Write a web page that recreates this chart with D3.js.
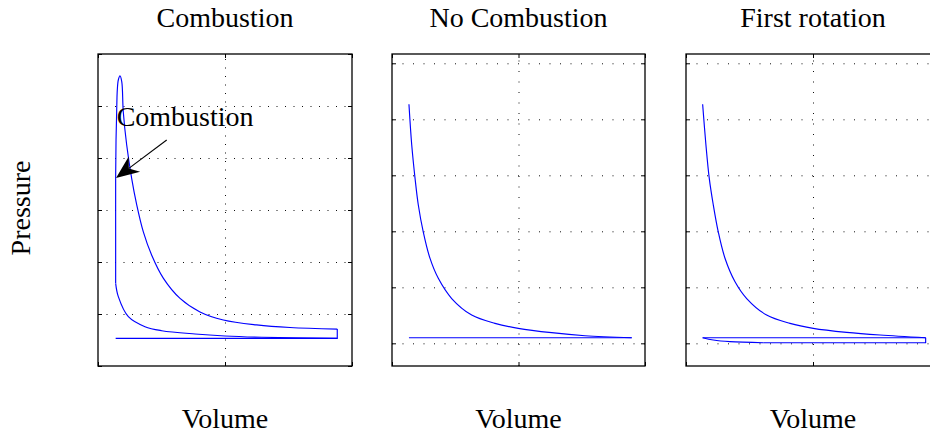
<!DOCTYPE html>
<html>
<head>
<meta charset="utf-8">
<script src="https://cdn.jsdelivr.net/npm/d3@7"></script>
<style>
  html, body { margin: 0; padding: 0; background: #fff; }
  svg { display: block; }
  text { font-family: "Liberation Serif", "Times New Roman", serif; fill: #000; }
</style>
</head>
<body>
<svg id="chart" width="930" height="433"></svg>
<script>
// ---- data ---------------------------------------------------------------
const panelTitles = ["Combustion", "No Combustion", "First rotation"];
const xLabel = "Volume";
const yLabel = "Pressure";
const annotationText = "Combustion";

const xTicks = [0, 1, 2];
const yTicksFired = [0, 1, 2, 3, 4, 5, 6];
const yTicksMotored = [0, 1, 2, 3, 4, 5];

// Fired cycle: compression stroke (right to left)
const firedCompressionV = [1.884, 1.289, 1.0, 0.764, 0.502, 0.370, 0.239, 0.160, 0.139];
const firedCompressionP = [0.53, 0.552, 0.577, 0.615, 0.679, 0.756, 0.948, 1.333, 1.59];
// Fired cycle: combustion rise then expansion stroke
const firedExpansionV = [0.139, 0.139, 0.139, 0.142, 0.147, 0.152, 0.160, 0.173, 0.187, 0.199, 0.226,
  0.265, 0.305, 0.357, 0.423, 0.514, 0.646, 0.803, 0.987, 1.249, 1.512, 1.884];
const firedExpansionP = [1.59, 2.62, 3.62, 4.35, 4.89, 5.31, 5.50, 5.58, 5.47, 4.89, 4.25,
  3.61, 3.10, 2.58, 2.13, 1.69, 1.30, 1.04, 0.885, 0.79, 0.74, 0.71];
// Fired cycle: exhaust / intake line
const firedLowV = [1.884, 1.884, 0.139];
const firedLowP = [0.71, 0.53, 0.53];

// Motored cycle (no combustion)
const motoredV = [0.134, 0.156, 0.182, 0.208, 0.247, 0.300, 0.366, 0.472, 0.630, 0.814, 0.998, 1.262, 1.526, 1.895];
const motoredP = [4.27, 3.54, 2.95, 2.47, 1.99, 1.52, 1.16, 0.80, 0.505, 0.357, 0.268, 0.19, 0.136, 0.10];
const motoredLowV = [1.895, 0.134];
const motoredLowP = [0.10, 0.10];

// First rotation
const firstV = [0.131, 0.157, 0.183, 0.215, 0.254, 0.307, 0.386, 0.478, 0.635, 0.819, 1.002, 1.265, 1.528, 1.887];
const firstP = [4.27, 3.54, 2.95, 2.47, 1.99, 1.52, 1.10, 0.80, 0.505, 0.357, 0.268, 0.196, 0.148, 0.10];
const firstLowV = [1.887, 1.887, 0.608, 0.346, 0.215, 0.131, 1.887];
const firstLowP = [0.10, 0.011, 0.011, 0.029, 0.059, 0.10, 0.10];

// Annotation arrow (tail -> tip), in data units of the first panel
const arrowV = [0.541, 0.142];
const arrowP = [4.346, 3.615];
const labelV = 0.147, labelP = 4.62;

// ---- layout -------------------------------------------------------------
const svg = d3.select("#chart");
const plotTop = 54, plotBottom = 366;
const fontSize = 28;
const panels = [
  { x0: 98,  x1: 352, yDomain: [0, 6],          yTicks: yTicksFired,   dash: "1,7.5" },
  { x0: 392, x1: 645, yDomain: [-0.405, 5.166], yTicks: yTicksMotored, dash: "1,9.5" },
  { x0: 686, x1: 940, yDomain: [-0.405, 5.166], yTicks: yTicksMotored, dash: "1,9.5" }
];

const zip = (a, b) => a.map((v, i) => [v, b[i]]);
const series = [
  { smooth: [zip(firedCompressionV, firedCompressionP), zip(firedExpansionV, firedExpansionP)],
    straight: [zip(firedLowV, firedLowP)] },
  { smooth: [zip(motoredV, motoredP)], straight: [zip(motoredLowV, motoredLowP)] },
  { smooth: [zip(firstV, firstP), zip(firstLowV.slice(2, 6), firstLowP.slice(2, 6))],
    straight: [zip(firstLowV.slice(0, 3), firstLowP.slice(0, 3)), zip(firstLowV.slice(5), firstLowP.slice(5))] }
];

panels.forEach((p, i) => {
  const x = d3.scaleLinear().domain([0, 2]).range([p.x0, p.x1]);
  const y = d3.scaleLinear().domain(p.yDomain).range([plotBottom, plotTop]);
  const g = svg.append("g");
  const w = p.x1 - p.x0, h = plotBottom - plotTop;

  // dotted grid
  const gridX = g.append("g").attr("transform", `translate(0,${plotBottom})`)
    .call(d3.axisBottom(x).tickValues(xTicks.slice(1, -1)).tickSize(-h).tickFormat(""));
  const gridY = g.append("g").attr("transform", `translate(${p.x0},0)`)
    .call(d3.axisLeft(y).tickValues(p.yTicks.filter(t => y(t) > plotTop + 1 && y(t) < plotBottom - 1))
      .tickSize(-w).tickFormat(""));
  [gridX, gridY].forEach(a => {
    a.select(".domain").remove();
    a.selectAll("line").attr("stroke", "#111").attr("stroke-width", 1).attr("stroke-dasharray", p.dash);
  });

  // inward tick marks on all four sides
  const tl = 4;
  const axes = [
    [d3.axisLeft(y).tickValues(p.yTicks), `translate(${p.x0},0)`],
    [d3.axisRight(y).tickValues(p.yTicks), `translate(${p.x1},0)`],
    [d3.axisBottom(x).tickValues(xTicks), `translate(0,${plotBottom})`],
    [d3.axisTop(x).tickValues(xTicks), `translate(0,${plotTop})`]
  ];
  axes.forEach(([ax, tr]) => {
    const a = g.append("g").attr("transform", tr).call(ax.tickSize(-tl).tickFormat(""));
    a.select(".domain").remove();
    a.selectAll("line").attr("stroke", "#000").attr("stroke-width", 1);
  });

  // data curves
  const smooth = d3.line().x(d => x(d[0])).y(d => y(d[1])).curve(d3.curveCatmullRom.alpha(0.5));
  const straight = d3.line().x(d => x(d[0])).y(d => y(d[1]));
  const s = series[i];
  const curves = g.append("g")
    .attr("fill", "none").attr("stroke", "#0000ff").attr("stroke-width", 1.15)
    .attr("stroke-linejoin", "round");
  s.smooth.forEach(d => curves.append("path").attr("d", smooth(d)));
  s.straight.forEach(d => curves.append("path").attr("d", straight(d)));

  // axes box
  g.append("rect").attr("x", p.x0).attr("y", plotTop).attr("width", w).attr("height", h)
    .attr("fill", "none").attr("stroke", "#000").attr("stroke-width", 1.3);

  // titles and x labels
  const cx = (p.x0 + p.x1) / 2;
  svg.append("text").attr("x", cx).attr("y", 27).attr("text-anchor", "middle")
    .attr("font-size", fontSize).text(panelTitles[i]);
  svg.append("text").attr("x", cx).attr("y", 428).attr("text-anchor", "middle")
    .attr("font-size", fontSize).text(xLabel);

  // annotation on the fired cycle
  if (i === 0) {
    const tail = [x(arrowV[0]), y(arrowP[0])];
    const tip = [x(arrowV[1]), y(arrowP[1])];
    const dx = tip[0] - tail[0], dy = tip[1] - tail[1];
    const len = Math.hypot(dx, dy);
    const ux = dx / len, uy = dy / len;      // unit vector toward the tip
    const nx = -uy, ny = ux;                  // normal
    const hl = 23, hw = 9.5, notch = 16;
    const pt = (a, b) => [tip[0] - ux * a + nx * b, tip[1] - uy * a + ny * b];
    const back = pt(notch, 0);
    g.append("line").attr("x1", tail[0]).attr("y1", tail[1]).attr("x2", back[0]).attr("y2", back[1])
      .attr("stroke", "#000").attr("stroke-width", 1.1);
    g.append("path")
      .attr("d", d3.line()([tip, pt(hl, hw), back, pt(hl, -hw)]) + "Z")
      .attr("fill", "#000");
    g.append("text").attr("x", x(labelV)).attr("y", y(labelP)).attr("font-size", fontSize).text(annotationText);
  }
});

// shared y label
svg.append("text").attr("transform", "translate(30,208) rotate(-90)")
  .attr("text-anchor", "middle").attr("font-size", fontSize).text(yLabel);
</script>
</body>
</html>
